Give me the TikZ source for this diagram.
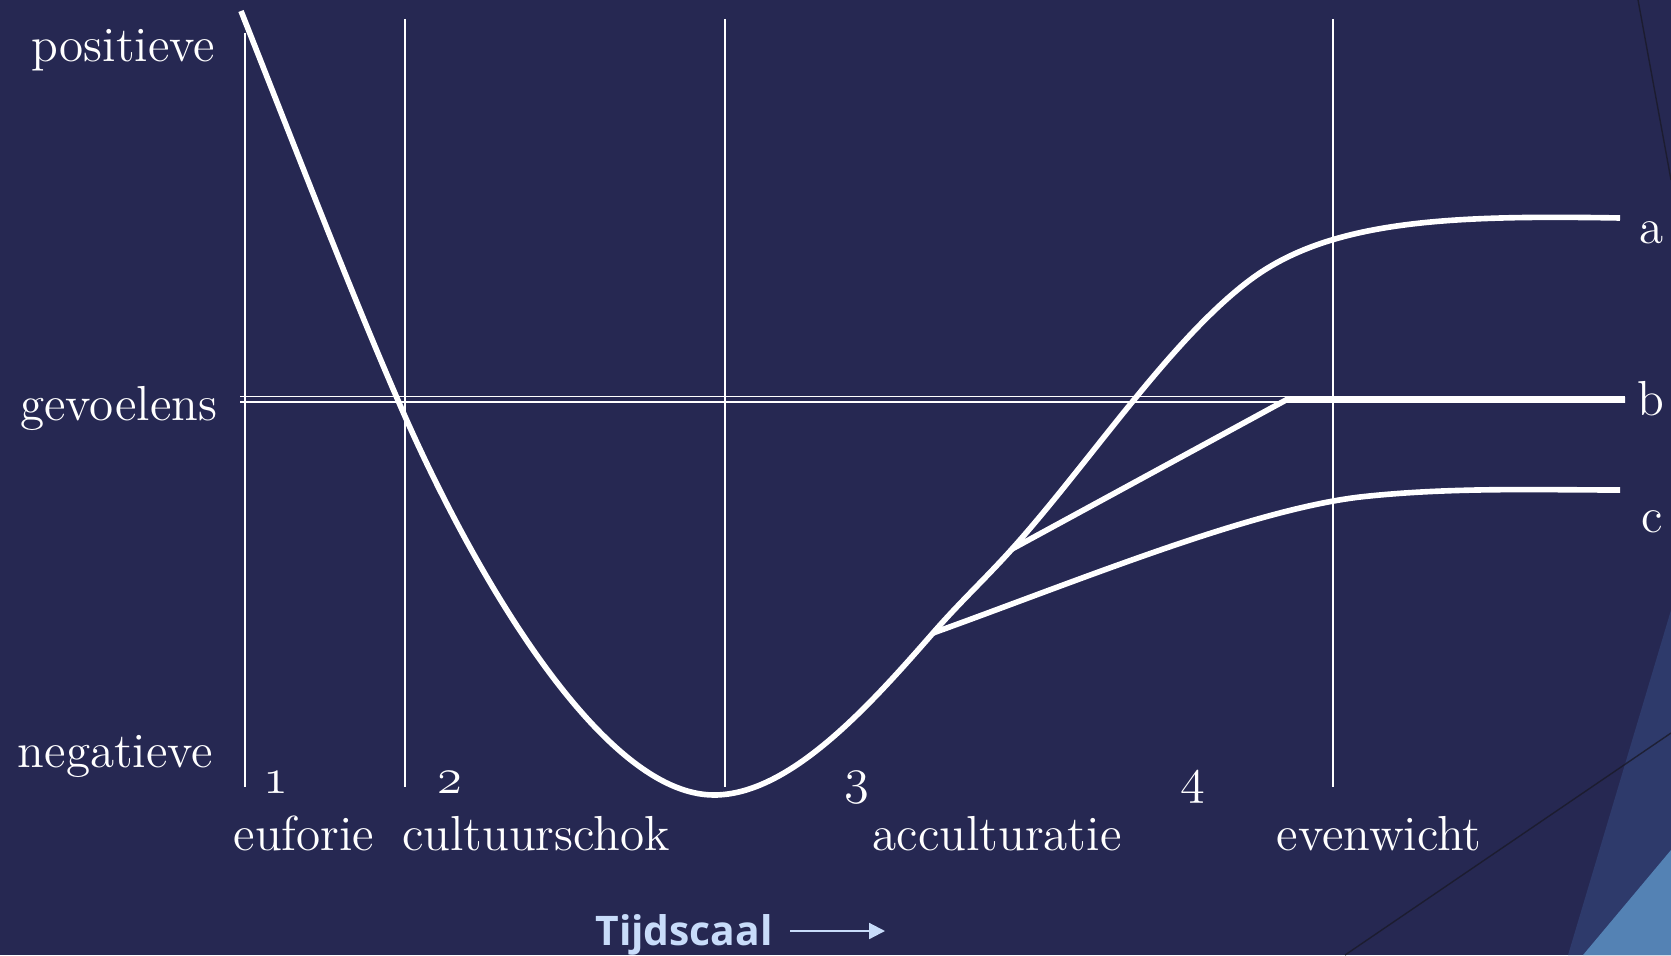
\documentclass[tikz,border=0pt]{standalone}
\usepackage{fontspec}
\newfontfamily\tijdfont{Open Sans}
\usetikzlibrary{arrows.meta}

\definecolor{slidebg}{HTML}{262852}
\definecolor{slidemid}{HTML}{2E3A6B}
\definecolor{slidelight}{HTML}{5482B4}
\definecolor{slideline}{HTML}{1A1A28}
\definecolor{tijdblue}{HTML}{C8DCFA}

\newcommand\ostyle[1]{{\usefont{OML}{lmm}{m}{it}#1}}

\begin{document}
\begin{tikzpicture}[x=0.1mm,y=-0.1mm,
  curve/.style={line width=1.6pt, white},
  gridline/.style={line width=0.55pt, white},
  lbl/.style={text=white, inner sep=0pt, font=\fontsize{14}{17}\selectfont},
  tijd/.style={text=tijdblue, inner sep=0pt, font=\tijdfont\bfseries\fontsize{11.6}{14}\selectfont}]
\def\gridtop{19}
\def\gridbot{787}

% background and corner
\fill[slidebg] (0,0) rectangle (1671,955);
\useasboundingbox (0,0) rectangle (1671,955);
\fill[slidemid] (1568,955) -- (1671,610) -- (1671,955) -- cycle;
\fill[slidelight] (1583,955) -- (1671,850) -- (1671,955) -- cycle;
\draw[slideline, line width=0.4pt, opacity=0.8] (1345,955) -- (1671,733);
\draw[slideline, line width=0.4pt, opacity=0.8] (1638,0) -- (1671,180);

% phase lines
\draw[gridline] (245,33) -- (245,\gridbot);
\draw[gridline] (405,\gridtop) -- (405,\gridbot);
\draw[gridline] (725,\gridtop) -- (725,\gridbot);
\draw[gridline] (1333,\gridtop) -- (1333,\gridbot);
\draw[gridline] (240,396.5) -- (1625,396.5);
\draw[gridline] (240,402) -- (1625,402);

% curves
\coordinate (astart) at (241,11);
\coordinate (cross) at (400,405);
\coordinate (low) at (714,795);
\coordinate (cstart) at (933,633);
\coordinate (bstart) at (1012,549);
\coordinate (arise) at (1250,280);
\coordinate (bknee) at (1286,400);
\coordinate (aend) at (1620,218);
\coordinate (bend) at (1625,400);
\coordinate (cbend) at (1360,497);
\coordinate (cend) at (1620,490);

\draw[curve] (astart) .. controls (300,160) and (350,290) .. (cross)
  .. controls (470,566) and (600,795) .. (low)
  .. controls (790,795) and (870,705) .. (cstart)
  .. controls (960,602) and (986,578) .. (bstart)
  .. controls (1090,462) and (1170,340) .. (arise)
  .. controls (1330,220) and (1450,215) .. (aend);
\draw[curve] (bstart) -- (bknee) -- (bend);
\draw[curve] (cstart) .. controls (1080,580) and (1250,510) .. (cbend)
  .. controls (1450,487) and (1540,490) .. (cend);

% labels
\node[lbl, anchor=east] (pos) at (216,50) {positieve};
\node[lbl, anchor=east] (gev) at (218,408) {gevoelens};
\node[lbl, anchor=east] (neg) at (214,756) {negatieve};

\node[lbl, anchor=base] (n1) at (276,793) {\ostyle{1}};
\node[lbl, anchor=base] (n2) at (450,793) {\ostyle{2}};
\node[lbl, anchor=base] (n3) at (857,793) {\ostyle{3}};
\node[lbl, anchor=base] (n4) at (1193,793) {\ostyle{4}};

\node[lbl, anchor=base] (euf) at (304,850) {euforie};
\node[lbl, anchor=base] (cul) at (536,850) {cultuurschok};
\node[lbl, anchor=base] (acc) at (997,850) {acculturatie};
\node[lbl, anchor=base] (eve) at (1379,850) {evenwicht};

\node[lbl, anchor=base] (la) at (1652,243) {a};
\node[lbl, anchor=base] (lb) at (1651,415) {b};
\node[lbl, anchor=base] (lc) at (1652,532) {c};

\node[tijd, anchor=base] (tijd) at (684,945) {Tijdscaal};
\coordinate (tijdstart) at (790,931);
\coordinate (tijdend) at (885,931);
\draw[tijdblue, line width=0.6pt, -{Triangle[length=4.5pt, width=4.5pt]}] (tijdstart) -- (tijdend);
\end{tikzpicture}
\end{document}
